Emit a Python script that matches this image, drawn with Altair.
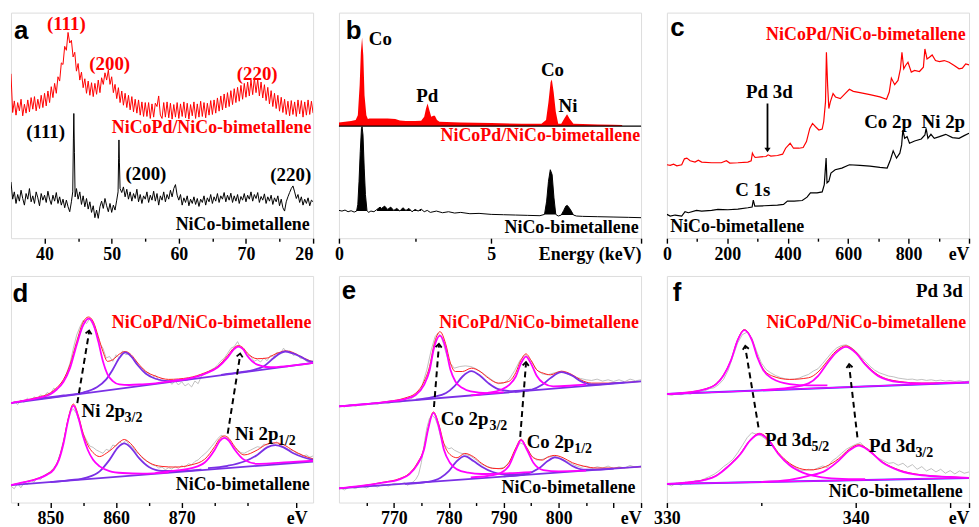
import altair as alt
import pandas as pd

SERIF = "Liberation Serif"
SANS = "Liberation Sans"
RED = "#ff0000"
ENV_RED = "#ff2020"
MAGENTA = "#ff00ff"
VIOLET = "#7b30e6"
BLUE = "#3a3aff"
GRAY = "#b0b0b0"

# ---------------- (a) XRD : intensity (a.u.) vs 2theta ----------------
xrd_start = 35.0
xrd_step = 0.25
xrd_red = [497,380,415,372,410,385,420,370,405,378,418,382,425,390,428,385,420,392,432,395,
           438,400,445,410,458,425,468,438,488,475,530,525,580,568,622,590,598,548,562,505,
           528,478,502,455,482,438,475,432,470,428,468,435,478,440,485,465,500,478,508,465,
           488,440,465,422,455,410,445,402,438,395,432,388,428,382,420,378,418,372,412,368,
           410,368,410,362,406,366,408,398,430,372,362,410,366,412,364,408,360,404,366,410,
           362,406,368,412,364,408,360,404,370,412,362,406,366,414,368,410,364,408,372,416,
           374,418,378,424,384,430,388,436,394,440,398,446,404,452,410,456,414,462,420,468,
           426,472,430,478,434,484,440,480,430,472,424,464,416,456,406,446,398,438,392,432,
           384,426,380,420,374,414,370,416,374,412,368,418,376,416,366,412,372,418,374,414,378]
xrd_black = [(35.00,170),(35.25,118),(35.50,140),(35.75,105),(36.00,132),(36.25,112),(36.50,145),(36.75,120),
             (37.00,100),(37.25,135),(37.50,118),(37.75,150),(38.00,110),(38.25,128),(38.50,105),(38.75,140),
             (39.00,122),(39.25,98),(39.50,135),(39.75,115),(40.00,130),(40.25,108),(40.50,142),(40.75,118),
             (41.00,102),(41.25,130),(41.50,112),(41.75,138),(42.00,105),(42.25,125),(42.50,100),(42.75,118),
             (43.00,92),(43.25,115),(43.50,95),(43.75,80),(44.00,110),(44.20,140),(44.30,300),(44.36,377),
             (44.45,260),(44.55,125),(44.75,150),(45.00,118),(45.25,140),(45.50,102),(45.75,128),(46.00,95),
             (46.25,120),(46.50,88),(46.75,110),(47.00,78),(47.25,98),(47.50,62),(47.75,85),(48.00,60),
             (48.25,95),(48.50,112),(48.75,90),(49.00,120),(49.25,98),(49.50,80),(49.75,105),(50.00,78),
             (50.25,100),(50.50,85),(50.75,115),(50.95,140),(51.03,240),(51.08,297),(51.15,230),(51.25,150),
             (51.50,138),(51.75,155),(52.00,125),(52.25,148),(52.50,118),(52.75,140),(53.00,112),(53.25,135),
             (53.50,120),(53.75,148),(54.00,110),(54.25,132),(54.50,105),(54.75,128),(55.00,118),(55.25,140),
             (55.50,108),(55.75,130),(56.00,115),(56.25,142),(56.50,112),(56.75,135),(57.00,100),(57.25,128),
             (57.50,115),(57.75,140),(58.00,110),(58.25,132),(58.50,118),(58.75,145),(59.00,125),(59.25,150),
             (59.50,162),(59.75,130),(60.00,115),(60.25,132),(60.50,100),(60.75,122),(61.00,108),(61.25,128),
             (61.50,98),(61.75,118),(62.00,105),(62.25,125),(62.50,102),(62.75,120),(63.00,96),(63.25,118),
             (63.50,108),(63.75,128),(64.00,100),(64.25,122),(64.50,110),(64.75,132),(65.00,105),(65.25,125),
             (65.50,112),(65.75,135),(66.00,108),(66.25,128),(66.50,118),(66.75,138),(67.00,110),(67.25,130),
             (67.50,115),(67.75,136),(68.00,108),(68.25,128),(68.50,112),(68.75,132),(69.00,105),(69.25,126),
             (69.50,115),(69.75,135),(70.00,110),(70.25,130),(70.50,118),(70.75,140),(71.00,112),(71.25,132),
             (71.50,120),(71.75,138),(72.00,108),(72.25,126),(72.50,115),(72.75,134),(73.00,105),(73.25,125),
             (73.50,112),(73.75,130),(74.00,102),(74.25,122),(74.50,110),(74.75,128),(75.00,98),(75.25,118),
             (75.50,92),(75.75,82),(76.00,110),(76.25,125),(76.50,138),(76.75,150),(77.00,158),(77.25,140),
             (77.50,120),(77.75,132),(78.00,108),(78.25,125),(78.50,100),(78.75,118),(79.00,105),(79.25,122),
             (79.50,98),(79.75,115),(80.00,110)]
a_red_labels = [(43.24, 630, "(111)"), (49.7, 509, "(200)"), (71.67, 477, "(220)")]
a_black_labels = [(40.17, 302, "(111)"), (55.1, 177, "(200)"), (76.67, 172, "(220)")]
a_red_name = [(79.75, 319, "NiCoPd/NiCo-bimetallene")]
a_black_name = [(79.5, 24, "NiCo-bimetallene")]
a_letter = [(35.44, 602, "a")]

# ---------------- (b) EDS : counts vs energy (keV) ----------------
eds_red = [(0.0,350),(0.2,352),(0.4,354),(0.55,357),(0.62,372),(0.68,462),(0.72,562),(0.76,607),(0.80,552),
           (0.84,432),(0.90,372),(0.95,360),(1.0,362),(1.3,362),(1.6,362),(1.85,360),(2.0,356),(2.2,354),
           (2.5,354),(2.7,355),(2.8,367),(2.86,392),(2.91,407),(2.97,387),(3.03,367),(3.1,370),(3.15,370),
           (3.22,357),(3.3,352),(4.0,350),(5.0,348),(6.0,346),(6.65,346),(6.8,357),(6.88,412),(6.95,472),
           (6.99,480),(7.05,442),(7.12,382),(7.2,346),(7.3,346),(7.4,362),(7.49,375),(7.58,360),(7.7,346),
           (8.0,345),(8.5,344),(9.0,343),(9.3,342)]
eds_black = [(0.0,84),(0.1,82),(0.2,85),(0.3,80),(0.4,83),(0.5,79),(0.58,82),(0.62,102),(0.66,172),(0.70,262),
             (0.74,332),(0.76,337),(0.79,312),(0.83,212),(0.87,132),(0.92,84),(0.97,78),(1.05,82),(1.15,80),
             (1.25,87),(1.35,94),(1.4,90),(1.5,97),(1.6,87),(1.7,94),(1.8,84),(1.9,90),(2.0,82),(2.1,92),
             (2.2,84),(2.3,90),(2.4,80),(2.5,87),(2.6,82),(2.7,88),(2.8,80),(2.9,84),(3.0,78),(3.2,82),(3.4,77),
             (3.6,80),(3.8,76),(4.0,78),(4.3,74),(4.6,75),(5.0,72),(5.4,71),(5.8,70),(6.2,69),(6.6,68),
             (6.75,72),(6.82,112),(6.88,172),(6.94,207),(7.0,192),(7.06,122),(7.12,72),(7.2,67),(7.3,70),
             (7.38,84),(7.45,97),(7.5,99),(7.56,92),(7.63,82),(7.7,70),(7.8,67),(8.0,66),(8.5,65),(9.0,64),
             (9.5,63),(9.92,62)]
eds_sep = 339
eds_black_fill = [(0.58, 0.92, 82), (1.25, 2.7, 82), (6.75, 7.12, 72), (7.3, 7.7, 70)]
b_black_labels = [(2.90, 412, "Pd", "center"), (7.01, 490, "Co", "center"), (7.52, 380, "Ni", "center"),
                  (0.98, 584, "Co", "left")]
b_red_name = [(9.89, 295, "NiCoPd/NiCo-bimetallene")]
b_black_name = [(9.84, 15, "NiCo-bimetallene")]
b_letter = [(0.22, 602, "b")]

# ---------------- (c) XPS survey : intensity vs binding energy (eV) ----------------
sur_red = [(0,222),(11,220),(22,224),(33,219),(49,222),(58,240),(66,242),(77,234),(93,230),(104,236),(115,230),
           (148,228),(180,228),(197,234),(208,227),(235,228),(268,230),(279,234),(283,257),(287,250),(292,244),
           (311,246),(328,247),(335,252),(344,248),(366,250),(383,254),(393,272),(408,287),(419,272),(437,272),
           (451,274),(462,292),(473,332),(482,347),(492,337),(503,327),(514,330),(519,352),(525,412),(528,562),
           (532,462),(536,392),(541,412),(550,437),(558,427),(574,422),(590,437),(604,450),(617,444),(639,440),
           (672,434),(705,427),(727,420),(736,442),(743,484),(754,464),(765,477),(773,512),(778,562),(784,512),
           (790,522),(798,532),(809,502),(820,507),(836,504),(849,517),(854,572),(861,542),(869,547),(878,554),
           (889,537),(902,534),(918,537),(934,532),(951,522),(967,512),(978,514),(989,527),(1000,524)]
sur_black = [(0,72),(11,67),(27,70),(49,67),(60,80),(71,77),(98,84),(115,82),(148,84),(169,87),(202,86),(235,88),
             (268,92),(282,94),(286,115),(291,97),(322,98),(366,100),(386,102),(399,112),(421,112),(448,114),
             (464,124),(475,137),(497,137),(514,140),(521,162),(527,242),(530,167),(536,172),(543,197),(557,207),
             (579,212),(604,222),(639,220),(672,218),(705,214),(729,212),(740,237),(749,264),(760,242),(771,257),
             (777,282),(781,327),(787,302),(795,307),(803,287),(820,294),(842,300),(854,312),(858,332),(864,302),
             (874,314),(885,302),(902,307),(923,314),(945,304),(967,302),(984,310),(1000,317)]
c_arrow = [[(333, 407), (333, 270)]]
c_head = [(333, 260, 0)]
c_labels = [(339, 424, "Pd 3d"), (732, 334, "Co 2p"), (915, 334, "Ni 2p"), (284, 129, "C 1s")]
c_red_name = [(989, 600, "NiCoPd/NiCo-bimetallene")]
c_black_name = [(11, 19, "NiCo-bimetallene")]
c_letter = [(11, 612, "c")]

# ---------------- (d) Ni 2p ----------------
ni_top_raw = [(844,300),(844.5,308),(845,298),(845.5,312),(846,305),(846.5,318),(847,310),(847.5,322),(848,315),
              (848.5,328),(849,322),(849.5,335),(850,330),(850.5,348),(851,342),(851.5,360),(852,372),(852.5,395),
              (853,425),(853.5,470),(854,510),(854.5,535),(855,555),(855.5,545),(856,560),(856.5,540),(857,520),
              (857.5,485),(858,470),(858.5,440),(859,445),(859.5,430),(860,450),(860.5,440),(861,462),(861.5,450),
              (862,455),(862.5,438),(863,432),(863.5,415),(864,410),(864.5,398),(865,395),(865.5,380),(866,388),
              (866.5,372),(867,378),(867.5,365),(868,372),(868.5,360),(869,370),(869.5,358),(870,368),(870.5,355),
              (871,362),(871.5,352),(872,370),(872.5,362),(873,385),(873.5,392),(874,398),(874.5,405),(875,410),
              (875.5,420),(876,432),(876.5,440),(877,455),(877.5,470),(878,475),(878.5,490),(879,470),(879.5,465),
              (880,450),(880.5,445),(881,430),(881.5,435),(882,428),(882.5,440),(883,432),(883.5,448),(884,445),
              (884.5,458),(885,452),(885.5,470),(886,458),(886.5,462),(887,448),(887.5,452),(888,440),(888.5,438),
              (889,430),(889.5,428),(890,432)]
ni_top_env = [(844,303),(846,311),(848,320),(850,334),(851,350),(852,375),(853,420),(854,490),(855,550),(855.8,565),
              (856.5,552),(857.3,505),(858,460),(858.7,430),(859.5,435),(860.5,452),(861.4,460),(862.3,450),
              (863.3,425),(864.5,400),(866,385),(868,375),(871,380),(873.5,395),(875.5,415),(877,448),(878,472),
              (878.6,478),(879.3,472),(880,455),(881.5,438),(883,440),(884,450),(885,458),(885.75,462),(886.8,458),
              (888,446),(889.5,432),(890,429)]
ni_top_base = [(844,303),(890,425)]
ni_top_peaks = [[(844,303),(846,310),(848,318),(850,330),(851,345),(852,368),(853,410),(854,480),(855,540),(855.8,560),
                 (856.5,545),(857.3,490),(858,430),(858.7,390),(859.5,370),(860.5,360),(862,358),(864,360),(866,363),
                 (870,374)],
                [(868,368),(871,377),(873.5,392),(875.5,412),(877,442),(878,468),(878.6,475),(879.3,468),(880,446),
                 (881.5,420),(883.5,412),(886,415),(890,425)]]
ni_top_sats = [[(848,316),(852,326),(855,335),(857,350),(858.5,375),(859.5,405),(860.5,440),(861.4,457),(862.3,445),
                (863.3,418),(864.5,393),(866,377),(868,370),(871,375)],
               [(876,389),(879,397),(881,404),(882.5,415),(884,440),(885,455),(885.75,460),(886.8,455),(888,445),
                (889.5,430),(890,428)]]
ni_bot_raw = [(844,50),(844.5,42),(845,58),(845.5,45),(846,60),(846.5,55),(847,68),(847.5,62),(848,75),(848.5,70),
              (849,82),(849.5,88),(850,95),(850.5,105),(851,120),(851.5,150),(852,190),(852.5,235),(853,275),
              (853.5,285),(854,270),(854.5,240),(855,210),(855.5,190),(856,172),(856.5,168),(857,160),(857.5,155),
              (858,150),(858.5,162),(859,158),(859.5,175),(860,172),(860.5,185),(861,178),(861.5,190),(862,176),
              (862.5,170),(863,155),(863.5,148),(864,135),(864.5,128),(865,122),(865.5,115),(866,112),(866.5,105),
              (867,108),(867.5,100),(868,106),(868.5,102),(869,110),(869.5,104),(870,112),(870.5,108),(871,118),
              (871.5,115),(872,125),(872.5,130),(873,140),(873.5,148),(874,158),(874.5,170),(875,182),(875.5,195),
              (876,205),(876.5,200),(877,195),(877.5,180),(878,168),(878.5,160),(879,152),(879.5,150),(880,155),
              (880.5,160),(881,165),(881.5,170),(882,168),(882.5,178),(883,175),(883.5,182),(884,178),(884.5,185),
              (885,175),(885.5,170),(886,165),(886.5,160),(887,158),(887.5,150),(888,148),(888.5,142),(889,145),
              (889.5,138),(890,142)]
ni_bot_env = [(844,53),(846,62),(848,73),(849.5,87),(850.5,103),(851.3,134),(852,185),(852.7,255),(853.5,300),
              (854.3,262),(855,210),(855.7,175),(856.5,152),(857.5,140),(858.5,150),(859.5,165),(860.3,180),
              (861.25,192),(862.2,180),(863.5,148),(865,122),(867,110),(869,108),(871.5,115),(873.5,132),(875,170),
              (875.8,195),(876.5,203),(877.2,195),(878,172),(879.5,145),(881.5,160),(883,178),(884.25,182),
              (885.5,176),(887,158),(888.5,143),(890,133)]
ni_bot_base = [(844,53),(890,125)]
ni_bot_peaks = [[(844,53),(846,62),(848,72),(849.5,85),(850.5,100),(851.3,130),(852,180),(852.7,250),(853.5,295),
                 (854.3,255),(855,200),(855.7,160),(856.5,130),(857.5,110),(859,96),(861,90),(864,88),(868,92)],
                [(866,90),(869,97),(871.5,105),(873.5,122),(875,160),(875.8,188),(876.5,197),(877.2,188),(878,163),
                 (879.5,130),(881.5,118),(884,120),(887,124),(890,127)]]
ni_bot_sats = [[(850,62),(853,68),(855.5,76),(857.5,95),(859,130),(860.3,168),(861.25,180),(862.2,168),(863.5,135),
                (865,108),(867,96),(870,96),(873,100)],
               [(874,105),(877,112),(879.5,125),(881.5,145),(883,168),(884.25,175),(885.5,168),(887,150),
                (888.5,138),(890,130)]]
d_arrows = [[(854.1, 303), (855.9, 520)], [(877.0, 210), (878.9, 450)]]
d_heads = [(855.9, 524, 9), (878.9, 454, 9)]
d_labels = [(854.75, 260, "Ni 2p"), (878.1, 190, "Ni 2p")]
d_subs = [(861.3, 245, "3/2"), (884.65, 175, "1/2")]
d_red_name = [(889.75, 532, "NiCoPd/NiCo-bimetallene")]
d_black_name = [(889.5, 38, "NiCo-bimetallene")]
d_letter = [(844.25, 610, "d")]

# ---------------- (e) Co 2p ----------------
co_top_raw = [(760,292),(761,288),(762,295),(763,290),(764,296),(765,294),(766,300),(767,296),(768,302),(769,299),
              (770,304),(771,303),(772,306),(773,312),(774,322),(775,345),(776,400),(776.8,460),(777.5,500),(778,510),
              (778.5,505),(779,480),(779.5,450),(780,425),(781,405),(782,410),(783,412),(784,410),(785,403),(786,392),
              (787,380),(788,368),(789,358),(790,360),(791,372),(792,398),(793,430),(794,445),(795,428),(796,400),
              (797,388),(798,385),(799,390),(800,394),(801,392),(802,385),(803,378),(804,374),(805,370),(806,368),
              (807,372),(808,366),(809,370),(810,365),(811,370),(812,364),(813,372),(814,367),(815,370)]
co_top_env = [(760,290),(765,297),(769,305),(772,315),(774,330),(775.5,365),(776.5,410),(777.3,475),(778.4,515),
              (779.4,480),(780.3,420),(781.2,395),(782.5,395),(784.1,405),(785.7,395),(787.2,375),(789,360),
              (790.9,365),(792.2,392),(793.1,428),(794.05,448),(795,428),(796,400),(797.2,390),(798.5,385),
              (800.5,396),(802.5,385),(804,370),(806,360),(809,360),(812,362),(815,365)]
co_top_base = [(760,290),(815,365)]
co_top_peaks = [[(760,290),(765,297),(769,304),(772,312),(774,325),(775.5,355),(776.5,398),(777.3,465),(778.4,503),
                 (779.4,468),(780.3,400),(781.2,365),(782.5,345),(784,335),(787,330),(790,333)],
                [(784,323),(787,330),(789.5,340),(791,355),(792.2,380),(793.1,418),(794.05,440),(795,418),(796,382),
                 (797.2,360),(799,350),(802,352),(805,356)]]
co_top_sats = [[(774,310),(777,318),(779.5,330),(781,350),(782.5,380),(784.1,396),(785.7,382),(787.2,360),(789,342),
                (791.5,336),(795,340)],
               [(792,334),(795,340),(797,355),(798.5,375),(800.5,393),(802.5,382),(804,366),(806,356),(809,358),
                (812,362)]]
co_bot_raw = [(760,45),(761,38),(762,48),(763,42),(764,50),(765,44),(766,52),(767,47),(768,55),(769,50),(770,58),
              (771,55),(772,60),(772.5,52),(773,58),(773.5,62),(774,70),(774.5,85),(775,120),(775.5,175),(776,225),
              (776.5,255),(777,262),(777.5,255),(778,232),(778.5,200),(779,180),(779.5,168),(780,162),(780.5,165),
              (781,158),(782,150),(783,145),(784,140),(785,128),(786,115),(787,108),(788,104),(789,102),(790,106),
              (791,120),(792,155),(793,180),(794,172),(795,142),(796,128),(797,130),(798,136),(799,140),(800,136),
              (801,128),(802,120),(803,112),(804,106),(805,110),(806,102),(807,108),(808,104),(809,110),(810,102),
              (811,108),(812,104),(813,112),(814,106),(815,110)]
co_bot_env = [(760,43),(764,50),(768,61),(771,72),(772.8,88),(774.3,120),(775.5,165),(776.2,222),(777.2,273),
              (778.2,235),(779.1,178),(780.2,145),(781.5,135),(782.9,148),(784.5,138),(786,118),(788,103),
              (789.5,102),(791,122),(792.2,165),(793.15,191),(794.2,165),(795.4,135),(797,128),(798,137),
              (799.3,142),(800.8,135),(802.5,120),(804.5,110),(807,104),(810,104),(815,108)]
co_bot_base = [(760,43),(815,108)]
co_bot_peaks = [[(760,43),(764,50),(768,60),(771,70),(772.8,85),(774.3,115),(775.5,160),(776.2,218),(777.2,270),
                 (778.2,228),(779.1,160),(780.2,120),(781.5,100),(783.5,90),(786,86),(790,88),(795,92)],
                [(784,76),(787,80),(789.5,90),(791,112),(792.2,158),(793.15,188),(794.2,160),(795.4,120),(797.2,98),
                 (800,94),(805,96)]]
co_bot_sats = [[(772,56),(776,62),(778.5,75),(780,95),(781.3,122),(782.9,140),(784.5,125),(786,108),(788,92),
                (790.5,84),(794,86)],
               [(790,79),(794,86),(796.5,104),(798,125),(799.3,136),(800.8,128),(802.5,110),(804.5,99),(807,99),
                (810,102)]]
e_arrows = [[(777.3, 288), (778.2, 474)], [(793.0, 198), (794.05, 419)]]
e_heads = [(778.2, 478, 4.5), (794.05, 423, 4.5)]
e_labels = [(778.54, 233, "Co 2p"), (794.17, 163, "Co 2p")]
e_subs = [(787.4, 218, "3/2"), (802.83, 148, "1/2")]
e_red_name = [(814.6, 526, "NiCoPd/NiCo-bimetallene")]
e_black_name = [(814.0, 30, "NiCo-bimetallene")]
e_letter = [(760.5, 613, "e")]

# ---------------- (f) Pd 3d ----------------
pd_top_raw = [(330,325),(330.25,322),(330.5,327),(330.75,324),(331,329),(331.25,326),(331.5,332),(331.75,334),
              (332,336),(332.25,342),(332.5,345),(332.75,355),(333,370),(333.25,398),(333.5,440),(333.75,480),
              (334,505),(334.25,512),(334.5,495),(334.75,455),(335,420),(335.25,400),(335.5,390),(335.75,382),
              (336,376),(336.25,372),(336.5,370),(336.75,371),(337,374),(337.25,380),(337.5,385),(337.75,395),
              (338,402),(338.25,418),(338.5,435),(338.75,452),(339,465),(339.25,472),(339.5,474),(339.75,466),
              (340,455),(340.25,440),(340.5,425),(340.75,410),(341,398),(341.25,390),(341.5,385),(341.75,380),
              (342,378),(342.25,374),(342.5,372),(342.75,370),(343,371),(343.25,368),(343.5,370),(343.75,367),
              (344,369),(344.25,366),(344.5,368),(344.75,365),(345,367),(345.25,364),(345.5,366),(345.75,363),
              (346,365)]
pd_top_env = [(330,326),(331,331),(332,341),(332.6,357),(333.0,384),(333.4,430),(333.75,490),(334.1,520),(334.5,490),
              (334.8,438),(335.1,402),(335.6,380),(336.5,370),(337.5,375),(338,392),(338.45,422),(338.95,455),
              (339.48,471),(340,453),(340.5,418),(341.2,383),(342.3,364),(343.5,359),(345,360),(346,361)]
pd_top_base = [(330,326),(346,361)]
pd_top_peaks = [[(330,326),(331,330),(332,340),(332.6,355),(333.0,382),(333.4,428),(333.75,488),(334.1,518),
                 (334.5,488),(334.8,435),(335.1,398),(335.6,372),(336.5,356),(337.5,352),(338.5,352)],
                [(335,338),(336.5,345),(337.5,358),(338,380),(338.45,415),(338.95,450),(339.48,468),(340,450),
                 (340.5,415),(341.2,380),(342.3,362),(343.5,358),(345,360),(346,361)]]
pd_bot_raw = [(330,55),(330.25,50),(330.5,58),(330.75,52),(331,62),(331.25,56),(331.5,66),(331.75,64),(332,72),
              (332.25,78),(332.5,85),(332.75,95),(333,108),(333.25,118),(333.5,130),(333.75,150),(334,172),
              (334.25,195),(334.5,210),(334.75,205),(335,200),(335.25,190),(335.5,175),(335.75,158),(336,140),
              (336.25,128),(336.5,115),(336.75,108),(337,98),(337.25,96),(337.5,100),(337.75,98),(338,104),
              (338.25,110),(338.5,105),(338.75,125),(339,135),(339.25,148),(339.5,160),(339.75,168),(340,175),
              (340.25,180),(340.5,165),(340.75,158),(341,140),(341.25,132),(341.5,125),(341.75,118),(342,120),
              (342.25,112),(342.5,118),(342.75,106),(343,114),(343.25,100),(343.5,108),(343.75,95),(344,102),
              (344.25,92),(344.5,100),(344.75,88),(345,96),(345.25,86),(345.5,95),(345.75,88),(346,92)]
pd_bot_env = [(330,56),(331,60),(332,69),(332.6,81),(333.2,108),(333.9,148),(334.4,188),(334.9,208),(335.4,189),
              (335.9,150),(336.5,118),(337.2,100),(337.56,98),(338.4,108),(339.1,132),(339.65,160),(340.17,174),
              (340.7,158),(341.4,123),(342.3,98),(343.5,83),(345,77),(346,74)]
pd_bot_base = [(330,56),(346,74)]
pd_bot_peaks = [[(330,56),(331,60),(332,68),(332.6,80),(333.2,106),(333.9,146),(334.4,186),(334.9,206),(335.4,186),
                 (335.9,146),(336.5,112),(337.2,90),(338,78),(339,72),(340.5,70)],
                [(335,62),(336.5,68),(337.5,80),(338.4,96),(339.1,126),(339.65,156),(340.17,171),(340.7,156),
                 (341.4,121),(342.3,96),(343.5,82),(345,77),(346,74)]]
f_arrows = [[(334.85, 226), (334.15, 467)], [(340.09, 196), (339.65, 412)]]
f_heads = [(334.15, 471, 351), (339.65, 416, 354)]
f_labels = [(335.2, 171, "Pd 3d"), (340.7, 151, "Pd 3d")]
f_subs = [(337.66, 156, "5/2"), (343.16, 136, "3/2")]
f_title = [(345.67, 618, "Pd 3d")]
f_red_name = [(345.85, 524, "NiCoPd/NiCo-bimetallene")]
f_black_name = [(345.67, 18, "NiCo-bimetallene")]
f_letter = [(330.31, 606, "f")]

CHEVRON = "M-0.8,0.9L0,0L0.8,0.9"
DOWN_TRI = "M-0.7,-1L0.7,-1L0,0Z"


def make_axis(ticks, labels, minor, right_val):
    expr = "''"
    for v, s in labels[::-1]:
        expr = f"datum.value == {v} ? '{s}' : {expr}"
    minor_test = "indexof([" + ",".join(str(m) for m in minor) + "], datum.value) >= 0"
    return alt.Axis(
        values=ticks, labelExpr=expr, title=None, grid=False, domain=False,
        ticks=True, tickColor="black", tickWidth=1.4,
        tickSize={"condition": {"test": minor_test, "value": 3}, "value": 5},
        labelAlign={"condition": {"test": f"datum.value == {right_val}", "value": "right"}, "value": "center"},
        labelFont=SERIF, labelFontWeight="bold", labelFontSize=18, labelColor="black",
        labelPadding=2, labelFlush=False, labelOverlap=False,
    )


class Panel:
    def __init__(self, xdom, ydom, axis, width, height):
        self.xs = alt.Scale(domain=xdom, nice=False, zero=False)
        self.ys = alt.Scale(domain=ydom, nice=False, zero=False)
        self.axis = axis
        self.w, self.h = width, height
        self.layers = []

    def xy(self):
        return {"x": alt.X("x:Q", scale=self.xs, axis=self.axis),
                "y": alt.Y("y:Q", scale=self.ys, axis=None)}

    def lines(self, series, color, width, interp="linear", dash=None):
        rows = [{"x": x, "y": y, "sid": k, "i": i}
                for k, pts in enumerate(series) for i, (x, y) in enumerate(pts)]
        kw = dict(color=color, strokeWidth=width, interpolate=interp, clip=True)
        if dash:
            kw["strokeDash"] = dash
        self.layers.append(alt.Chart(pd.DataFrame(rows)).mark_line(**kw).encode(
            **self.xy(), detail="sid:N", order="i:Q"))

    def areas(self, segments, color):
        rows = [{"x": x, "y": y, "b": b, "sid": k}
                for k, (pts, b) in enumerate(segments) for (x, y) in pts]
        self.layers.append(alt.Chart(pd.DataFrame(rows)).mark_area(color=color, clip=True).encode(
            **self.xy(), y2=alt.Y2("b"), detail="sid:N"))

    def hrule(self, yvals, color, width):
        df = pd.DataFrame({"y": yvals})
        self.layers.append(alt.Chart(df).mark_rule(color=color, strokeWidth=width).encode(
            y=alt.Y("y:Q", scale=self.ys, axis=None)))

    def texts(self, items, color, size, align, font=SERIF):
        df = pd.DataFrame(items, columns=["x", "y", "t"])
        self.layers.append(alt.Chart(df).mark_text(
            color=color, fontSize=size, align=align, baseline="alphabetic",
            font=font, fontWeight="bold").encode(**self.xy(), text="t:N"))

    def heads(self, items, shape, filled, size):
        df = pd.DataFrame(items, columns=["x", "y", "ang"])
        self.layers.append(alt.Chart(df).mark_point(
            shape=shape, filled=filled, size=size, color="black", strokeWidth=1.8, opacity=1).encode(
            **self.xy(), angle=alt.Angle("ang:Q", scale=None)))

    def chart(self):
        return alt.layer(*self.layers).properties(width=self.w, height=self.h)


W = 304
H1 = 227
H2 = 228

# ---- a ----
ax_a = make_axis([40, 45, 50, 55, 60, 65, 70, 75, 80],
                 [(40, "40"), (50, "50"), (60, "60"), (70, "70"), (80, "2θ")],
                 [45, 55, 65, 75], 80)
pa = Panel([35, 80], [0, 682], ax_a, W, H1)
xrd_red_pts = [(xrd_start + xrd_step * i, v) for i, v in enumerate(xrd_red)]
pa.lines([xrd_red_pts], RED, 1.0)
pa.lines([xrd_black], "black", 1.0)
pa.texts(a_red_labels, RED, 19, "center")
pa.texts(a_red_name, RED, 18, "right")
pa.texts(a_black_labels, "black", 19, "center")
pa.texts(a_black_name, "black", 18, "right")
pa.texts(a_letter, "black", 26, "left", SANS)

# ---- b ----
ax_b = make_axis([0, 2.5, 5, 9.92], [(0, "0"), (5, "5"), (9.92, "Energy (keV)")], [2.5], 9.92)
pb = Panel([0, 9.92], [0, 682], ax_b, W, H1)
pb.areas([(eds_red, eds_sep)], RED)
pb.hrule([eds_sep], "black", 1.3)
fill_segments = [([(x, y) for (x, y) in eds_black if lo <= x <= hi], base) for (lo, hi, base) in eds_black_fill]
pb.areas(fill_segments, "black")
pb.lines([eds_black], "black", 1.0)
for (x, y, t, al) in b_black_labels:
    pb.texts([(x, y, t)], "black", 19, al)
pb.texts(b_red_name, RED, 18, "right")
pb.texts(b_black_name, "black", 18, "right")
pb.texts(b_letter, "black", 26, "left", SANS)

# ---- c ----
ax_c = make_axis(list(range(0, 1001, 100)),
                 [(0, "0"), (200, "200"), (400, "400"), (600, "600"), (800, "800"), (1000, "eV")],
                 [100, 300, 500, 700, 900], 1000)
pc = Panel([0, 1000], [0, 682], ax_c, W, H1)
pc.lines([sur_red], RED, 1.2)
pc.lines([sur_black], "black", 1.2)
pc.lines(c_arrow, "black", 1.8)
pc.heads(c_head, DOWN_TRI, True, 80)
pc.texts(c_labels, "black", 19, "center")
pc.texts(c_red_name, RED, 18, "right")
pc.texts(c_black_name, "black", 18, "left")
pc.texts(c_letter, "black", 26, "left", SANS)

# ---- d ----
ax_d = make_axis([845, 850, 855, 860, 865, 870, 875, 880, 887.5],
                 [(850, "850"), (860, "860"), (870, "870"), (887.5, "eV")],
                 [845, 855, 865, 875, 880], 99999)
pdn = Panel([844, 890], [0, 690], ax_d, W, H2)
pdn.lines([ni_top_raw, ni_bot_raw], GRAY, 0.8)
pdn.lines([ni_top_env, ni_bot_env], ENV_RED, 1.0, "monotone")
pdn.lines([ni_top_base, ni_bot_base], VIOLET, 1.8)
pdn.lines(ni_top_sats + ni_bot_sats, VIOLET, 1.8, "monotone")
pdn.lines(ni_top_peaks + ni_bot_peaks, MAGENTA, 1.8, "monotone")
pdn.lines(d_arrows, "black", 2.0, dash=[6, 4])
pdn.heads(d_heads, CHEVRON, False, 60)
pdn.texts(d_labels, "black", 19, "left")
pdn.texts(d_subs, "black", 14, "left")
pdn.texts(d_red_name, RED, 18, "right")
pdn.texts(d_black_name, "black", 18, "right")
pdn.texts(d_letter, "black", 26, "left", SANS)

# ---- e ----
ax_e = make_axis([765, 770, 775, 780, 785, 790, 795, 800, 805, 810, 815],
                 [(770, "770"), (780, "780"), (790, "790"), (800, "800"), (815, "eV")],
                 [765, 775, 785, 795, 805], 815)
pe = Panel([760, 815], [0, 683], ax_e, W, H2)
pe.lines([co_top_raw, co_bot_raw], GRAY, 0.8)
pe.lines([co_top_env, co_bot_env], ENV_RED, 1.0, "monotone")
pe.lines([co_top_base, co_bot_base], VIOLET, 1.8)
pe.lines(co_top_sats + co_bot_sats, VIOLET, 1.8, "monotone")
pe.lines(co_top_peaks + co_bot_peaks, MAGENTA, 1.8, "monotone")
pe.lines(e_arrows, "black", 2.0, dash=[6, 4])
pe.heads(e_heads, CHEVRON, False, 60)
pe.texts(e_labels, "black", 19, "left")
pe.texts(e_subs, "black", 14, "left")
pe.texts(e_red_name, RED, 18, "right")
pe.texts(e_black_name, "black", 18, "right")
pe.texts(e_letter, "black", 26, "left", SANS)

# ---- f ----
ax_f = make_axis([330, 335, 340, 345, 346], [(330, "330"), (340, "340"), (346, "eV")], [335], 346)
pf = Panel([330, 346], [0, 681], ax_f, W, H2)
pf.lines([pd_top_raw, pd_bot_raw], GRAY, 0.8)
pf.lines([pd_top_env, pd_bot_env], ENV_RED, 1.0, "monotone")
pf.lines([pd_top_base, pd_bot_base], BLUE, 2.0)
pf.lines([pd_top_base, pd_bot_base], MAGENTA, 1.3)
pf.lines(pd_top_peaks + pd_bot_peaks, MAGENTA, 1.8, "monotone")
pf.lines(f_arrows, "black", 2.0, dash=[6, 4])
pf.heads(f_heads, CHEVRON, False, 60)
pf.texts(f_labels, "black", 19, "left")
pf.texts(f_subs, "black", 14, "left")
pf.texts(f_title, "black", 19, "right")
pf.texts(f_red_name, RED, 18, "right")
pf.texts(f_black_name, "black", 18, "right")
pf.texts(f_letter, "black", 26, "left", SANS)

chart = alt.concat(
    pa.chart(), pb.chart(), pc.chart(), pdn.chart(), pe.chart(), pf.chart(),
    columns=3, spacing={"row": 38, "column": 26}, bounds="flush"
).properties(
    padding={"left": 2, "top": 2, "right": 0, "bottom": 0}, background="white"
).configure_view(stroke="black", strokeWidth=1.5).configure(font=SERIF)

chart.save("out.html", embed_options={"renderer": "svg", "actions": False})
